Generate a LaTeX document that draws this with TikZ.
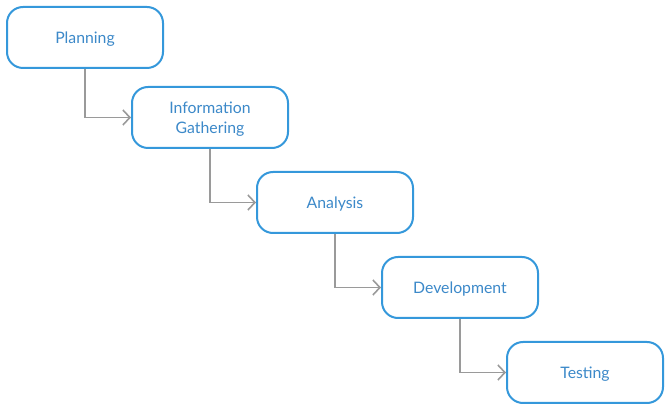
\documentclass[tikz,border=0pt]{standalone}
\usepackage{fontspec}
\setmainfont{Lato}
\usetikzlibrary{arrows.meta}
\definecolor{boxblue}{HTML}{3598DB}
\definecolor{textblue}{HTML}{3C89C9}
\definecolor{linegray}{HTML}{9A9A9A}
\tikzset{
  stepbox/.style={draw=boxblue, line width=2pt, rounded corners=16pt, fill=white,
    minimum width=156pt, minimum height=61pt, inner sep=0pt, align=center,
    text=textblue, font=\fontsize{15.8}{20.5}\selectfont, text depth=0pt},
  flow/.style={draw=linegray, line width=1.6pt, -{Straight Barb[length=7pt,width=15pt,line width=1.6pt]}}
}
\begin{document}
\begin{tikzpicture}[x=1pt,y=-1pt]
\useasboundingbox (0,0) rectangle (672,419);
\node[stepbox] (plan) at (85,37.5) {Planning};
\node[stepbox] (info) at (210,117.5) {Information\\Gathering};
\node[stepbox] (ana)  at (335,202.5) {Analysis};
\node[stepbox] (dev)  at (460,287.5) {Development};
\node[stepbox] (test) at (585,372.5) {Testing};
\draw[flow] (plan.south) |- (info.west);
\draw[flow] (info.south) |- (ana.west);
\draw[flow] (ana.south)  |- (dev.west);
\draw[flow] (dev.south)  |- (test.west);
\end{tikzpicture}
\end{document}
